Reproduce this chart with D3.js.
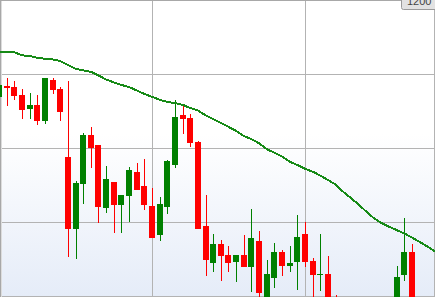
<!DOCTYPE html>
<html>
<head>
<meta charset="utf-8">
<script src="https://cdn.jsdelivr.net/npm/d3@7/dist/d3.min.js"></script>
<style>
  html, body { margin: 0; padding: 0; background: #fff; }
  svg { display: block; }
</style>
</head>
<body>
<script>
// candle values, one per bar (bars 45-51 and 55-57 sit below the visible window)
var openVals = [1134.5,1141.9,1141.2,1135.8,1126.4,1129.1,1118.2,1145.9,1139.9,1093.9,
    1045.3,1075.7,1108.8,1102.0,1059.5,1077.0,1061.5,1067.6,1083.8,1074.3,
    1060.8,1041.2,1060.1,1088.5,1122.3,1120.3,1104.1,1047.3,1022.3,1035.1,
    1027.7,1023.0,1027.7,1019.6,1037.2,995.9,1012.2,1029.7,1020.3,1023.0,
    1041.9,1023.6,1014.2,1014.9,997.3,987,982,988,979,985,
    981,989,990.5,1014.2,1029.7,990,984,992];
var highVals = [1143.2,1147.3,1145.3,1139.9,1137.2,1135.8,1147.3,1147.3,1141.2,1145.3,
    1077.7,1110.1,1114.2,1102.0,1087.8,1077.0,1068.2,1087.2,1089.9,1092.6,
    1073.0,1066.9,1091.9,1132.4,1129.1,1123.0,1104.7,1068.2,1041.9,1037.8,
    1033.8,1027.7,1041.2,1058.8,1043.9,1024.3,1035.8,1031.1,1033.8,1054.7,
    1050.0,1025.7,1041.9,1027.0,1000.7,996,992,995,990,996,
    994,998,1020.3,1052.7,1035.1,998,995,999];
var lowVals = [1133.8,1128.4,1132.4,1119.6,1119.6,1115.5,1116.2,1136.5,1118.2,1026.4,
    1025.0,1062.2,1086.5,1049.3,1056.1,1042.6,1042.6,1050.0,1071.6,1058.1,
    1039.2,1037.2,1055.4,1086.5,1109.5,1100.7,1045.3,1013.5,1016.2,1010.1,
    1016.2,1009.5,1019.6,1002.7,997.3,990.5,1005.4,1013.5,1016.2,1004.1,
    1019.6,995.9,1003.4,989.2,983.8,978,972,975,970,977,
    974,980,985.1,1010.1,987.2,980,975,982];
var closeVals = [1142.6,1140.5,1135.1,1125.7,1129.1,1118.2,1147.3,1139.2,1124.3,1045.3,
    1076.4,1108.8,1100.0,1060.1,1079.1,1061.5,1068.2,1085.1,1071.6,1061.5,
    1039.2,1062.2,1091.2,1120.9,1119.6,1103.4,1045.3,1024.3,1035.1,1027.0,
    1022.3,1027.7,1019.6,1039.2,1002.0,1014.9,1029.7,1020.3,1022.3,1039.9,
    1023.0,1014.2,1014.9,993.9,987.2,982,988,979,985,981,
    989,990,1012.8,1029.7,990.5,984,992,986];
// moving average
var maVals = [1164.7,1164.7,1164.7,1162.6,1162.2,1161.0,1160.3,1159.8,1158.8,1156.1,
    1153.5,1152.5,1151.5,1149.0,1146.3,1144.3,1142.6,1141.2,1138.9,1136.5,
    1134.6,1132.6,1131.1,1130.3,1129.2,1127.0,1125.3,1122.1,1119.6,1116.9,
    1114.3,1111.5,1108.1,1106.0,1103.2,1099.2,1096.8,1094.3,1090.7,1088.5,
    1086.0,1084.0,1081.4,1078.4,1075.3,1070.4,1066.2,1061.8,1057.1,1052.6,
    1049.3,1046.8,1044.5,1042.2,1039.5,1036.5,1033.4,1030.2];

var yTicks = [1000, 1050, 1100, 1150, 1200];
var xGridIdx = [20, 40];
var priceLabel = "1200";

var width = 435, height = 297;

var bars = openVals.map(function(o, i) {
    return {i: i, open: o, high: highVals[i], low: lowVals[i], close: closeVals[i]};
});

var x = d3.scaleLinear()
    .domain([0, bars.length - 1])
    .range([-1, -1 + 7.65 * (bars.length - 1)]);

var y = d3.scaleLinear()
    .domain([1000, 1200])
    .range([296, 0]);

var svg = d3.select("body").append("svg")
    .attr("width", width)
    .attr("height", height);

var defs = svg.append("defs");

var grad = defs.append("linearGradient")
    .attr("id", "bg")
    .attr("x1", 0).attr("y1", 0)
    .attr("x2", 0).attr("y2", 1);
grad.append("stop").attr("offset", "0").attr("stop-color", "#ffffff");
grad.append("stop").attr("offset", "0.45").attr("stop-color", "#ffffff");
grad.append("stop").attr("offset", "1").attr("stop-color", "#e5ecf8");

defs.append("clipPath")
    .attr("id", "clip")
    .append("rect")
    .attr("x", 0)
    .attr("y", 0)
    .attr("width", width)
    .attr("height", height);

svg.append("rect")
    .attr("width", width)
    .attr("height", height)
    .attr("fill", "url(#bg)");

// grid
var grid = svg.append("g")
    .attr("class", "grid")
    .attr("shape-rendering", "crispEdges")
    .attr("stroke", "#b3b3b3")
    .attr("stroke-width", 1);

grid.selectAll("line.h")
    .data(yTicks)
    .enter().append("line")
    .attr("class", "h")
    .attr("x1", 0)
    .attr("x2", width)
    .attr("y1", function(d) { return Math.round(y(d)) + 0.5; })
    .attr("y2", function(d) { return Math.round(y(d)) + 0.5; });

grid.selectAll("line.v")
    .data(xGridIdx)
    .enter().append("line")
    .attr("class", "v")
    .attr("y1", 0)
    .attr("y2", height)
    .attr("x1", function(d) { return Math.round(x(d)) + 0.5; })
    .attr("x2", function(d) { return Math.round(x(d)) + 0.5; });

// frame on the left and right edges
svg.append("line")
    .attr("x1", 0.5).attr("x2", 0.5)
    .attr("y1", 0).attr("y2", height)
    .attr("stroke", "#a8a8a8")
    .attr("shape-rendering", "crispEdges");
svg.append("line")
    .attr("x1", 1.5).attr("x2", 1.5)
    .attr("y1", 0).attr("y2", height)
    .attr("stroke", "#dcdcdc")
    .attr("shape-rendering", "crispEdges");
svg.append("line")
    .attr("x1", width - 0.5).attr("x2", width - 0.5)
    .attr("y1", 0).attr("y2", height)
    .attr("stroke", "#b3b3b3")
    .attr("shape-rendering", "crispEdges");

// candles
var candles = svg.append("g")
    .attr("class", "candlestick")
    .attr("clip-path", "url(#clip)")
    .attr("shape-rendering", "crispEdges");

var candle = candles.selectAll("g.bar")
    .data(bars)
    .enter().append("g")
    .attr("class", "bar");

function colorOf(d) {
    return d.close >= d.open ? "#008000" : "#ff0000";
}

candle.append("line")
    .attr("x1", function(d) { return Math.round(x(d.i)) + 0.5; })
    .attr("x2", function(d) { return Math.round(x(d.i)) + 0.5; })
    .attr("y1", function(d) { return Math.round(y(d.high)); })
    .attr("y2", function(d) { return Math.round(y(d.low)); })
    .attr("stroke", colorOf)
    .attr("stroke-width", 1);

candle.append("rect")
    .attr("x", function(d) { return Math.round(x(d.i)) - 3; })
    .attr("width", 6)
    .attr("y", function(d) { return Math.round(y(Math.max(d.open, d.close))); })
    .attr("height", function(d) {
        var top = Math.round(y(Math.max(d.open, d.close)));
        var bot = Math.round(y(Math.min(d.open, d.close)));
        return Math.max(1, bot - top);
    })
    .attr("fill", colorOf);

// moving average
var maLine = d3.line()
    .x(function(d, i) { return x(i); })
    .y(function(d) { return y(d); });

svg.append("path")
    .datum(maVals)
    .attr("clip-path", "url(#clip)")
    .attr("d", maLine)
    .attr("fill", "none")
    .attr("stroke", "#168a16")
    .attr("stroke-width", 2)
    .attr("shape-rendering", "crispEdges");

// top border
svg.append("line")
    .attr("x1", 0).attr("x2", width)
    .attr("y1", 0.5).attr("y2", 0.5)
    .attr("stroke", "#a8a8a8")
    .attr("shape-rendering", "crispEdges");

// price label box, cut by the top edge
var lab = svg.append("g").attr("class", "price-label");
lab.append("rect")
    .attr("x", 401.5)
    .attr("y", -10.5)
    .attr("width", 40)
    .attr("height", 20)
    .attr("rx", 2)
    .attr("fill", "#e2e2e2")
    .attr("stroke", "#9a9a9a");
lab.append("text")
    .attr("x", 407)
    .attr("y", 5)
    .attr("font-family", "Liberation Sans, Arial, sans-serif")
    .attr("font-size", 11)
    .attr("fill", "#444")
    .text(priceLabel);
</script>
</body>
</html>
